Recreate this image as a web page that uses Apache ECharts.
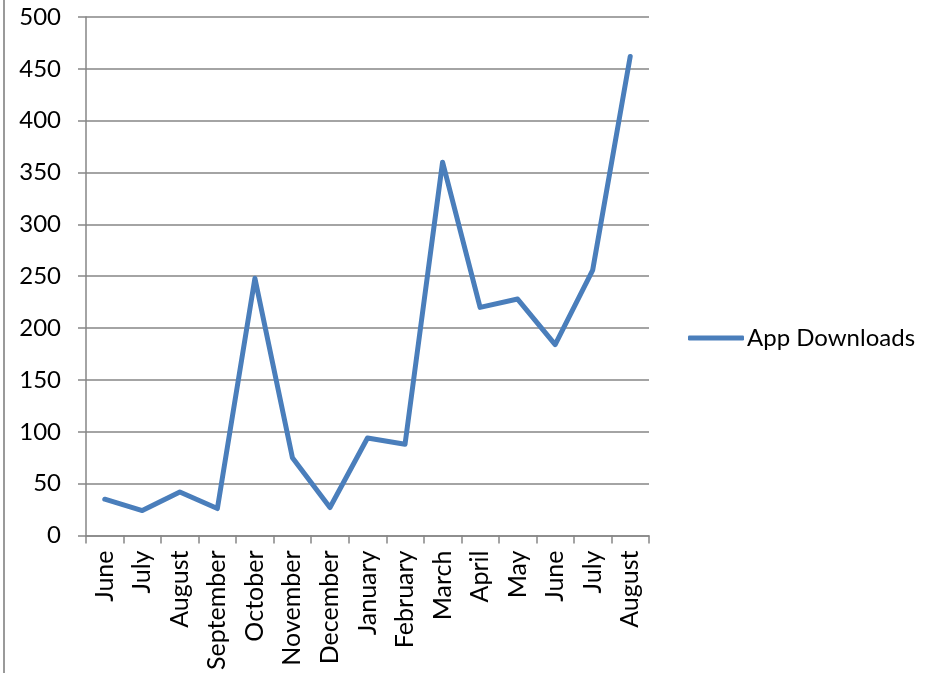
<!DOCTYPE html>
<html>
<head>
<meta charset="utf-8">
<script src="https://cdn.jsdelivr.net/npm/echarts@6/dist/echarts.min.js"></script>
<style>html,body{margin:0;padding:0;background:#fff}#c{width:939px;height:673px}</style>
</head>
<body>
<div id="c"></div>
<script>
const categories = ["June","July","August","September","October","November","December","January","February","March","April","May","June","July","August"];
const downloads = [35, 24, 42, 26, 248, 75, 27, 94, 88, 360, 220, 228, 184, 256, 462];
const seriesName = "App Downloads";
const yTicks = { min: 0, max: 500, interval: 50 };

const chart = echarts.init(document.getElementById('c'), null, { renderer: 'canvas' });
const font = "Lato, 'Open Sans', sans-serif";
chart.setOption({
  animation: false,
  backgroundColor: '#ffffff',
  graphic: [{
    type: 'line', shape: { x1: 4, y1: 0, x2: 4, y2: 673 },
    style: { stroke: '#9a9a9a', lineWidth: 2 }
  }],
  grid: { left: 86, right: 290, top: 17, bottom: 136, containLabel: false },
  legend: {
    data: [{ name: seriesName, icon: 'roundRect' }],
    left: 688, top: 326, padding: 0, itemWidth: 56, itemHeight: 5, itemGap: 0,
    textStyle: { fontFamily: font, fontSize: 24, color: '#000', padding: [0, 0, 0, -2] }
  },
  xAxis: {
    type: 'category', data: categories, boundaryGap: true,
    axisLine: { lineStyle: { color: '#868686', width: 1.5 } },
    axisTick: { show: true, length: 8, interval: 0, lineStyle: { color: '#868686', width: 1.5 } },
    axisLabel: { rotate: 90, interval: 0, margin: 15, fontFamily: font, fontSize: 25, color: '#000' }
  },
  yAxis: {
    type: 'value', min: yTicks.min, max: yTicks.max, interval: yTicks.interval,
    axisLine: { show: true, lineStyle: { color: '#868686', width: 1.5 } },
    axisTick: { show: true, length: 8, lineStyle: { color: '#868686', width: 1.5 } },
    splitLine: { lineStyle: { color: '#868686', width: 1.5 } },
    axisLabel: { margin: 25, fontFamily: font, fontSize: 24, color: '#000' }
  },
  series: [{
    name: seriesName, type: 'line', data: downloads,
    symbol: 'none',
    lineStyle: { color: '#4a7ebb', width: 5, join: 'round', cap: 'round' },
    itemStyle: { color: '#4a7ebb' }
  }]
});
</script>
</body>
</html>
